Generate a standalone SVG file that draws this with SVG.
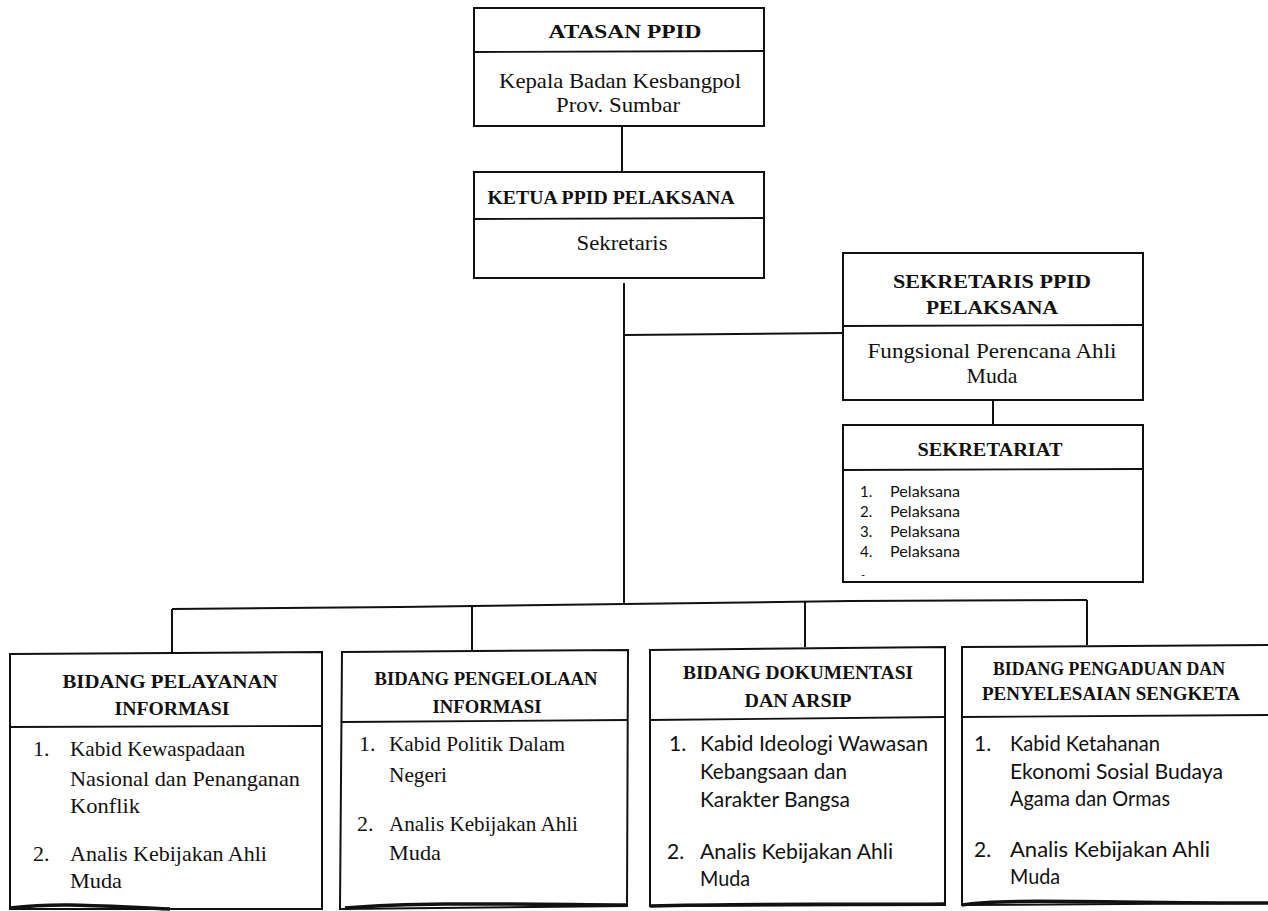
<svg xmlns="http://www.w3.org/2000/svg" width="1268" height="911" viewBox="0 0 1268 911">
<style>
.box{fill:#fff;stroke:#111;stroke-width:2}
.div{stroke:#111;stroke-width:1.8;fill:none}
.bot{stroke:#111;stroke-width:3.5;fill:none}
.ln{stroke:#111;stroke-width:2;fill:none}
.t{font-family:"Liberation Serif","DejaVu Serif",serif;font-weight:bold;font-size:19px;fill:#111;text-anchor:middle}
.b{font-family:"Liberation Serif","DejaVu Serif",serif;font-size:21px;fill:#111;text-anchor:middle}
.l{font-family:"Liberation Serif","DejaVu Serif",serif;font-size:22px;fill:#111}
.s{font-family:"Lato","Liberation Sans",sans-serif;font-size:21px;fill:#111}
.p{font-family:"Lato","Liberation Sans",sans-serif;font-size:15px;fill:#111}
</style>
<rect width="1268" height="911" fill="#fff"/>
<g id="connectors">
<path class="ln" d="M622 126 V172"/>
<path class="ln" d="M624 283 V604"/>
<path class="ln" d="M625 335 L843 333"/>
<path class="ln" d="M993 400 V452"/>
<path class="ln" d="M172 609 L400 607 L624 604 L850 601 L1087 600"/>
<path class="ln" d="M172 609 V652"/>
<path class="ln" d="M472 607 V650"/>
<path class="ln" d="M805 602 V647"/>
<path class="ln" d="M1087 600 V645"/>
</g>
<g id="atasan">
<rect class="box" x="474" y="8" width="290" height="118"/>
<path class="div" d="M474 52 L764 51"/>
<text class="t" x="625" y="38" textLength="153" lengthAdjust="spacingAndGlyphs">ATASAN PPID</text>
<text class="b" x="620" y="88" textLength="242" lengthAdjust="spacingAndGlyphs">Kepala Badan Kesbangpol</text>
<text class="b" x="618" y="112" textLength="124" lengthAdjust="spacingAndGlyphs">Prov. Sumbar</text>
</g>
<g id="ketua">
<rect class="box" x="474" y="172" width="290" height="106"/>
<path class="div" d="M474 219 L764 218"/>
<text class="t" x="611" y="204" textLength="247" lengthAdjust="spacingAndGlyphs">KETUA PPID PELAKSANA</text>
<text class="b" x="622" y="250" textLength="91" lengthAdjust="spacingAndGlyphs">Sekretaris</text>
</g>
<g id="sekretaris">
<rect class="box" x="843" y="253" width="300" height="147"/>
<path class="div" d="M843 326 L1143 325"/>
<text class="t" x="992" y="288" textLength="198" lengthAdjust="spacingAndGlyphs">SEKRETARIS PPID</text>
<text class="t" x="992" y="314" textLength="132" lengthAdjust="spacingAndGlyphs">PELAKSANA</text>
<text class="b" x="992" y="358" textLength="249" lengthAdjust="spacingAndGlyphs">Fungsional Perencana Ahli</text>
<text class="b" x="992" y="383" textLength="51" lengthAdjust="spacingAndGlyphs">Muda</text>
</g>
<g id="sekretariat">
<rect class="box" x="843" y="425" width="300" height="157"/>
<path class="div" d="M843 470 L1143 469"/>
<text class="t" x="990" y="456" textLength="145" lengthAdjust="spacingAndGlyphs">SEKRETARIAT</text>
<text class="p" x="860" y="497">1.</text><text class="p" x="890" y="497" textLength="70" lengthAdjust="spacingAndGlyphs">Pelaksana</text>
<text class="p" x="860" y="517">2.</text><text class="p" x="890" y="517" textLength="70" lengthAdjust="spacingAndGlyphs">Pelaksana</text>
<text class="p" x="860" y="537">3.</text><text class="p" x="890" y="537" textLength="70" lengthAdjust="spacingAndGlyphs">Pelaksana</text>
<text class="p" x="860" y="557">4.</text><text class="p" x="890" y="557" textLength="70" lengthAdjust="spacingAndGlyphs">Pelaksana</text>
<text x="861" y="579" font-family="Lato, 'Liberation Sans', sans-serif" font-size="11" fill="#111">-</text>
</g>
<g id="bidang1">
<path class="box" d="M10 654 L322 652 L322 909 L10 909 Z"/>
<path class="div" d="M10 727 L322 726"/>
<path class="bot" d="M10 908 C60 902 100 906 170 909"/>
<text class="t" x="170" y="688" textLength="215" lengthAdjust="spacingAndGlyphs">BIDANG PELAYANAN</text>
<text class="t" x="172" y="715" textLength="115" lengthAdjust="spacingAndGlyphs">INFORMASI</text>
<text class="l" x="33" y="756">1.</text>
<text class="l" x="70" y="756" textLength="175" lengthAdjust="spacingAndGlyphs">Kabid Kewaspadaan</text>
<text class="l" x="70" y="786" textLength="230" lengthAdjust="spacingAndGlyphs">Nasional dan Penanganan</text>
<text class="l" x="70" y="813" textLength="70" lengthAdjust="spacingAndGlyphs">Konflik</text>
<text class="l" x="33" y="861">2.</text>
<text class="l" x="70" y="861" textLength="197" lengthAdjust="spacingAndGlyphs">Analis Kebijakan Ahli</text>
<text class="l" x="70" y="888" textLength="52" lengthAdjust="spacingAndGlyphs">Muda</text>
</g>
<g id="bidang2">
<path class="box" d="M342 652 L628 650 L627 906 L340 909 Z"/>
<path class="div" d="M342 722 L628 720"/>
<path class="bot" d="M345 908 C420 902 500 904 627 905"/>
<text class="t" x="486" y="685" textLength="223" lengthAdjust="spacingAndGlyphs">BIDANG PENGELOLAAN</text>
<text class="t" x="487" y="713" textLength="109" lengthAdjust="spacingAndGlyphs">INFORMASI</text>
<text class="l" x="359" y="751">1.</text>
<text class="l" x="389" y="751" textLength="176" lengthAdjust="spacingAndGlyphs">Kabid Politik Dalam</text>
<text class="l" x="389" y="782" textLength="58" lengthAdjust="spacingAndGlyphs">Negeri</text>
<text class="l" x="357" y="831">2.</text>
<text class="l" x="389" y="831" textLength="189" lengthAdjust="spacingAndGlyphs">Analis Kebijakan Ahli</text>
<text class="l" x="389" y="860" textLength="52" lengthAdjust="spacingAndGlyphs">Muda</text>
</g>
<g id="bidang3">
<path class="box" d="M650 650 L945 647 L945 905 L650 906 Z"/>
<path class="div" d="M650 720 L945 717"/>
<path class="bot" d="M650 906 C750 903 850 905 945 904"/>
<text class="t" x="798" y="679" textLength="230" lengthAdjust="spacingAndGlyphs">BIDANG DOKUMENTASI</text>
<text class="t" x="798" y="707" textLength="107" lengthAdjust="spacingAndGlyphs">DAN ARSIP</text>
<text class="s" x="669" y="751">1.</text>
<text class="s" x="700" y="751" textLength="228" lengthAdjust="spacingAndGlyphs">Kabid Ideologi Wawasan</text>
<text class="s" x="700" y="779" textLength="147" lengthAdjust="spacingAndGlyphs">Kebangsaan dan</text>
<text class="s" x="700" y="807" textLength="150" lengthAdjust="spacingAndGlyphs">Karakter Bangsa</text>
<text class="s" x="667" y="859">2.</text>
<text class="s" x="700" y="859" textLength="193" lengthAdjust="spacingAndGlyphs">Analis Kebijakan Ahli</text>
<text class="s" x="700" y="886" textLength="50" lengthAdjust="spacingAndGlyphs">Muda</text>
</g>
<g id="bidang4">
<path class="box" d="M1268 645 L962 647 L962 905 L1268 903"/>
<path class="div" d="M962 717 L1268 715"/>
<path class="bot" d="M962 905 C1000 898 1100 903 1268 903"/>
<text class="t" x="1109" y="675" textLength="232" lengthAdjust="spacingAndGlyphs">BIDANG PENGADUAN DAN</text>
<text class="t" x="1111" y="700" textLength="258" lengthAdjust="spacingAndGlyphs">PENYELESAIAN SENGKETA</text>
<text class="s" x="974" y="751">1.</text>
<text class="s" x="1010" y="751" textLength="150" lengthAdjust="spacingAndGlyphs">Kabid Ketahanan</text>
<text class="s" x="1010" y="779" textLength="213" lengthAdjust="spacingAndGlyphs">Ekonomi Sosial Budaya</text>
<text class="s" x="1010" y="806" textLength="160" lengthAdjust="spacingAndGlyphs">Agama dan Ormas</text>
<text class="s" x="974" y="857">2.</text>
<text class="s" x="1010" y="857" textLength="200" lengthAdjust="spacingAndGlyphs">Analis Kebijakan Ahli</text>
<text class="s" x="1010" y="884" textLength="50" lengthAdjust="spacingAndGlyphs">Muda</text>
</g>
</svg>
